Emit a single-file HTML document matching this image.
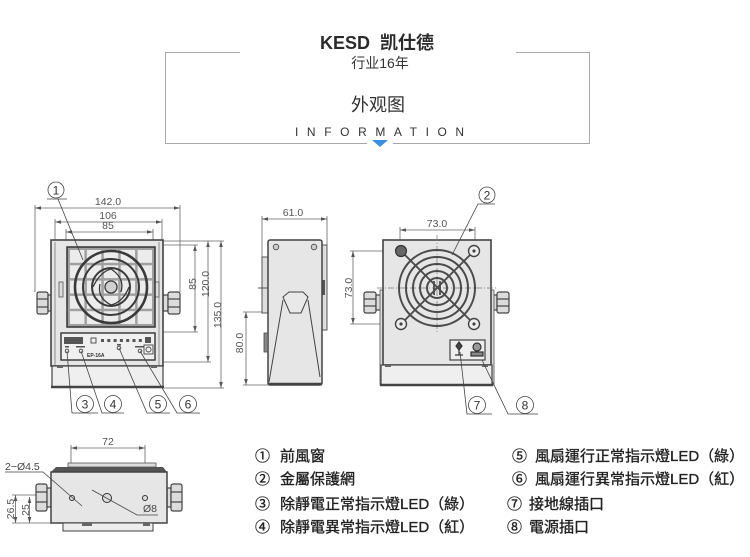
<!DOCTYPE html>
<html><head><meta charset="utf-8">
<style>
html,body{margin:0;padding:0;background:#fff;}
svg{display:block;}
.f{font-family:"Liberation Sans","Noto Sans CJK TC","Noto Sans CJK SC",sans-serif;}
.sc{font-family:"Liberation Sans","Noto Sans CJK SC",sans-serif;}
</style></head><body>
<svg width="750" height="557" viewBox="0 0 750 557" xmlns="http://www.w3.org/2000/svg" class="f">
<defs>
<marker id="a" viewBox="0 0 10 10" refX="10" refY="5" markerWidth="6" markerHeight="6" orient="auto-start-reverse" markerUnits="userSpaceOnUse"><path d="M0,2 L10,5 L0,8z" fill="#555"/></marker>
</defs>

<!-- HEADER -->
<g stroke="#a8a8a8" stroke-width="1" fill="none">
<polyline points="240,52.5 165.5,52.5 165.5,143.5 367,143.5"/>
<polyline points="516,52.5 589.5,52.5 589.5,143.5 393,143.5"/>
</g>
<polygon points="372,140 388,140 380,147" fill="#3c8ee0"/>
<g class="sc">
<text x="377" y="49" text-anchor="middle" font-size="18" font-weight="bold" fill="#2b2b2b">KESD&#160;&#160;凯仕德</text>
<text x="380" y="68" text-anchor="middle" font-size="14" fill="#333">行业16年</text>
<text x="378" y="111" text-anchor="middle" font-size="18" fill="#333">外观图</text>
</g>
<text x="295" y="136" font-size="12" letter-spacing="8.6" fill="#333">INFORMATION</text>

<!-- ================= FRONT VIEW ================= -->
<g stroke="#666" stroke-width="0.8" fill="none">
<line x1="35" y1="205" x2="35" y2="292"/>
<line x1="180" y1="205" x2="180" y2="292"/>
<line x1="55" y1="219" x2="55" y2="240"/>
<line x1="162" y1="219" x2="162" y2="240"/>
<line x1="66" y1="229" x2="66" y2="247"/>
<line x1="153" y1="229" x2="153" y2="247"/>
<line x1="35" y1="208" x2="180" y2="208" marker-start="url(#a)" marker-end="url(#a)"/>
<line x1="55" y1="222" x2="162" y2="222" marker-start="url(#a)" marker-end="url(#a)"/>
<line x1="66" y1="232" x2="153" y2="232" marker-start="url(#a)" marker-end="url(#a)"/>
<line x1="155" y1="245" x2="198" y2="245"/>
<line x1="155" y1="332" x2="198" y2="332"/>
<line x1="163" y1="241" x2="224" y2="241"/>
<line x1="163" y1="362" x2="211" y2="362"/>
<line x1="163" y1="388" x2="224" y2="388"/>
<line x1="195" y1="245" x2="195" y2="332" marker-start="url(#a)" marker-end="url(#a)"/>
<line x1="208" y1="241" x2="208" y2="362" marker-start="url(#a)" marker-end="url(#a)"/>
<line x1="221" y1="241" x2="221" y2="388" marker-start="url(#a)" marker-end="url(#a)"/>
</g>
<g font-size="10.5" fill="#555" text-anchor="middle">
<text x="108" y="205">142.0</text>
<text x="108" y="219">106</text>
<text x="108" y="229">85</text>
<text transform="translate(196,284) rotate(-90)">85</text>
<text transform="translate(209,284) rotate(-90)">120.0</text>
<text transform="translate(221,315) rotate(-90)">135.0</text>
</g>

<g stroke="#444" stroke-width="1.2" fill="#dcdcdc">
<rect x="37" y="292" width="11" height="22" rx="2"/>
<line x1="37" y1="299" x2="48" y2="299"/><line x1="37" y1="307" x2="48" y2="307"/>
<rect x="48" y="295" width="4" height="16"/>
<rect x="163" y="295" width="5" height="16"/>
<rect x="168" y="292" width="12" height="22" rx="2"/>
<line x1="168" y1="299" x2="180" y2="299"/><line x1="168" y1="307" x2="180" y2="307"/>
</g>
<rect x="51" y="240" width="112" height="126" fill="#e6e6e6" stroke="#444" stroke-width="1.6"/>
<line x1="55" y1="242" x2="55" y2="387" stroke="#777" stroke-width="0.8"/>
<line x1="159" y1="242" x2="159" y2="387" stroke="#777" stroke-width="0.8"/>
<rect x="59" y="282" width="4" height="15" fill="#ddd" stroke="#555" stroke-width="0.8"/>
<rect x="155" y="282" width="4" height="15" fill="#ddd" stroke="#555" stroke-width="0.8"/>
<rect x="67" y="247" width="88" height="80" fill="#a0a0a0" stroke="#333" stroke-width="1.5"/>
<g fill="#ececec">
<rect x="70" y="250" width="14.4" height="12.8"/><rect x="86.9" y="250" width="14.4" height="12.8"/><rect x="103.8" y="250" width="14.4" height="12.8"/><rect x="120.7" y="250" width="14.4" height="12.8"/><rect x="137.6" y="250" width="14.4" height="12.8"/>
<rect x="70" y="265.3" width="14.4" height="12.8"/><rect x="86.9" y="265.3" width="14.4" height="12.8"/><rect x="103.8" y="265.3" width="14.4" height="12.8"/><rect x="120.7" y="265.3" width="14.4" height="12.8"/><rect x="137.6" y="265.3" width="14.4" height="12.8"/>
<rect x="70" y="280.6" width="14.4" height="12.8"/><rect x="86.9" y="280.6" width="14.4" height="12.8"/><rect x="103.8" y="280.6" width="14.4" height="12.8"/><rect x="120.7" y="280.6" width="14.4" height="12.8"/><rect x="137.6" y="280.6" width="14.4" height="12.8"/>
<rect x="70" y="295.9" width="14.4" height="12.8"/><rect x="86.9" y="295.9" width="14.4" height="12.8"/><rect x="103.8" y="295.9" width="14.4" height="12.8"/><rect x="120.7" y="295.9" width="14.4" height="12.8"/><rect x="137.6" y="295.9" width="14.4" height="12.8"/>
<rect x="70" y="311.2" width="14.4" height="12.8"/><rect x="86.9" y="311.2" width="14.4" height="12.8"/><rect x="103.8" y="311.2" width="14.4" height="12.8"/><rect x="120.7" y="311.2" width="14.4" height="12.8"/><rect x="137.6" y="311.2" width="14.4" height="12.8"/>
</g>
<g fill="none" stroke="#3a3a3a">
<circle cx="111" cy="287" r="36" stroke-width="2.6"/>
<circle cx="111" cy="287" r="28" stroke-width="2"/>
<circle cx="111" cy="287" r="19" stroke-width="2"/>
<path d="M111,269 Q125,278 121,292 M93,287 Q100,272 111,269 M111,305 Q97,298 100,284 M129,287 Q123,302 111,305" stroke-width="1.3"/>
</g>
<circle cx="111" cy="287" r="6" fill="#cfcfcf" stroke="#3a3a3a" stroke-width="1.3"/>
<rect x="61" y="333" width="94" height="27" fill="#f0f0f0" stroke="#333" stroke-width="1.4"/>
<rect x="64" y="337" width="19" height="7" fill="#555"/>
<rect x="91" y="338" width="5" height="5" fill="none" stroke="#444" stroke-width="0.9"/>
<g fill="#555">
<rect x="101" y="339" width="3" height="3"/><rect x="107.3" y="339" width="3" height="3"/><rect x="113.6" y="339" width="3" height="3"/><rect x="119.9" y="339" width="3" height="3"/><rect x="126.2" y="339" width="3" height="3"/><rect x="132.5" y="339" width="3" height="3"/><rect x="138.8" y="339" width="3" height="3"/>
<rect x="145" y="337" width="6" height="6"/>
<rect x="65" y="346" width="4" height="1.5"/><rect x="76" y="346" width="9" height="1.5"/><rect x="117" y="344" width="4" height="1.5"/><rect x="135" y="346" width="9" height="1.5"/>
</g>
<g fill="none" stroke="#444" stroke-width="0.9">
<circle cx="67" cy="351" r="1.8"/><circle cx="81" cy="351" r="1.8"/><circle cx="119" cy="348" r="1.8"/><circle cx="140" cy="351" r="1.8"/>
<rect x="144" y="345" width="9" height="9"/><circle cx="148.5" cy="349.5" r="2.5"/>
</g>
<text x="87" y="357" font-size="5" font-weight="bold" fill="#333">EP-16A</text>
<rect x="52" y="366" width="111" height="21" fill="#efefef" stroke="#444" stroke-width="1.2"/>
<line x1="51" y1="387" x2="164" y2="387" stroke="#444" stroke-width="2.5"/>
<rect x="57" y="366" width="6" height="2" fill="#666"/><rect x="151" y="366" width="6" height="2" fill="#666"/>
<g stroke="#444" stroke-width="0.8" fill="none">
<circle cx="56" cy="190" r="8"/>
<polyline points="47,199 67,199"/>
<line x1="58" y1="199" x2="83" y2="260"/>
<circle cx="85" cy="404" r="8.5"/><circle cx="113" cy="404" r="8.5"/><circle cx="158" cy="404" r="8.5"/><circle cx="188" cy="404" r="8.5"/>
<polyline points="67,351 72,413 98,413"/>
<polyline points="81,351 102,413 124,413"/>
<polyline points="119,348 147,413 170,413"/>
<polyline points="140,351 177,413 200,413"/>
</g>
<g font-size="12" fill="#333" text-anchor="middle">
<text x="56" y="194.5">1</text>
<text x="85" y="408.5">3</text><text x="113" y="408.5">4</text><text x="158" y="408.5">5</text><text x="188" y="408.5">6</text>
</g>

<!-- ================= SIDE VIEW ================= -->
<g stroke="#666" stroke-width="0.8" fill="none">
<line x1="262" y1="216" x2="262" y2="257"/>
<line x1="327" y1="216" x2="327" y2="245"/>
<line x1="262" y1="219" x2="327" y2="219" marker-start="url(#a)" marker-end="url(#a)"/>
<line x1="243" y1="312" x2="290" y2="312"/>
<line x1="243" y1="385" x2="268" y2="385"/>
<line x1="246" y1="312" x2="246" y2="385" marker-start="url(#a)" marker-end="url(#a)"/>
</g>
<text x="293" y="216" font-size="10.5" fill="#555" text-anchor="middle">61.0</text>
<text transform="translate(243,343) rotate(-90)" font-size="10.5" fill="#555" text-anchor="middle">80.0</text>
<rect x="262" y="257" width="6" height="56" fill="#ddd" stroke="#555" stroke-width="1"/>
<rect x="322" y="245" width="5" height="85" fill="#ddd" stroke="#555" stroke-width="1"/>
<rect x="322" y="280" width="3" height="15" fill="#555"/>
<rect x="268" y="240" width="54" height="145" rx="2" fill="#e6e6e6" stroke="#444" stroke-width="1.5"/>
<line x1="258" y1="288" x2="268" y2="288" stroke="#444" stroke-width="0.9"/>
<path d="M264,333 L268,333 L268,352 L264,352 Z" fill="#888" stroke="#444" stroke-width="0.8"/>
<g fill="#ccc" stroke="#444" stroke-width="0.8">
<circle cx="276" cy="247" r="2.8"/><circle cx="314" cy="247" r="2.8"/>
</g>
<g stroke="#444" stroke-width="1" fill="none">
<polygon points="283,297 289,292 303,292 308,297 301,313 290,313" fill="#e9e9e9"/>
<line x1="283" y1="300" x2="269" y2="382"/>
<line x1="308" y1="300" x2="320" y2="377"/>
</g>
<line x1="268" y1="384" x2="322" y2="384" stroke="#444" stroke-width="2.5"/>

<!-- ================= BACK VIEW ================= -->
<g stroke="#666" stroke-width="0.8" fill="none">
<line x1="400" y1="227" x2="400" y2="247"/>
<line x1="475" y1="227" x2="475" y2="247"/>
<line x1="400" y1="230" x2="475" y2="230" marker-start="url(#a)" marker-end="url(#a)"/>
<line x1="350" y1="251" x2="397" y2="251"/>
<line x1="350" y1="324" x2="397" y2="324"/>
<line x1="353" y1="251" x2="353" y2="324" marker-start="url(#a)" marker-end="url(#a)"/>
</g>
<text x="437" y="227" font-size="10.5" fill="#555" text-anchor="middle">73.0</text>
<text transform="translate(352,288) rotate(-90)" font-size="10.5" fill="#555" text-anchor="middle">73.0</text>
<g stroke="#444" stroke-width="1.2" fill="#dcdcdc">
<rect x="364" y="292" width="12" height="21" rx="2"/>
<line x1="364" y1="299" x2="376" y2="299"/><line x1="364" y1="306" x2="376" y2="306"/>
<rect x="376" y="295" width="5" height="15"/>
<rect x="492" y="295" width="5" height="15"/>
<rect x="497" y="292" width="12" height="21" rx="2"/>
<line x1="497" y1="299" x2="509" y2="299"/><line x1="497" y1="306" x2="509" y2="306"/>
</g>
<rect x="380" y="290" width="4" height="95" fill="#ddd" stroke="#555" stroke-width="0.8"/>
<rect x="490" y="290" width="4" height="95" fill="#ddd" stroke="#555" stroke-width="0.8"/>
<rect x="383" y="240" width="108" height="125" fill="#e6e6e6" stroke="#444" stroke-width="1.6"/>
<rect x="381" y="365" width="111" height="20" fill="#efefef" stroke="#444" stroke-width="1.2"/>
<line x1="380" y1="385" x2="493" y2="385" stroke="#444" stroke-width="2.5"/>
<rect x="385" y="365" width="6" height="2" fill="#666"/><rect x="482" y="365" width="6" height="2" fill="#666"/>
<g stroke="#777" stroke-width="0.7" stroke-dasharray="6,2,1,2" fill="none">
<line x1="377" y1="288" x2="497" y2="288"/>
<line x1="437" y1="235" x2="437" y2="334"/>
</g>
<g fill="none" stroke="#4a4a4a" stroke-width="2">
<circle cx="437" cy="288" r="38"/>
<circle cx="437" cy="288" r="31"/>
<circle cx="437" cy="288" r="24"/>
<circle cx="437" cy="288" r="17"/>
<circle cx="437" cy="288" r="10"/>
</g>
<g stroke="#4a4a4a" stroke-width="1.8">
<line x1="401" y1="251" x2="474" y2="324"/>
<line x1="474" y1="251" x2="401" y2="324"/>
<line x1="434" y1="281" x2="434" y2="295"/><line x1="440" y1="281" x2="440" y2="295"/>
</g>
<circle cx="401" cy="251" r="5.5" fill="#666" stroke="#333" stroke-width="1.2"/>
<g fill="#eee" stroke="#444" stroke-width="1.4">
<circle cx="474" cy="251" r="5.5"/><circle cx="401" cy="324" r="5.5"/><circle cx="474" cy="324" r="5.5"/>
</g>
<g fill="#444"><circle cx="474" cy="251" r="1.6"/><circle cx="401" cy="324" r="1.6"/><circle cx="474" cy="324" r="1.6"/></g>
<rect x="450" y="340" width="35" height="20" fill="#eee" stroke="#444" stroke-width="1.2"/>
<g stroke="#333" stroke-width="1.2" fill="#444">
<polygon points="459,342 462,346 459,350 456,346"/>
<line x1="459" y1="350" x2="459" y2="355"/>
<line x1="455" y1="355" x2="463" y2="355"/>
<circle cx="477" cy="347" r="4" fill="#999"/>
<rect x="471" y="352" width="12" height="4" fill="#888"/>
</g>
<g stroke="#444" stroke-width="0.8" fill="none">
<circle cx="487" cy="195" r="8"/>
<polyline points="495,204 478,204 452,255"/>
<circle cx="477" cy="405" r="8.5"/><circle cx="525" cy="405" r="8.5"/>
<polyline points="460,352 467,414 492,414"/>
<polyline points="482,360 508,414 538,414"/>
</g>
<g font-size="12" fill="#333" text-anchor="middle">
<text x="487" y="199.5">2</text>
<text x="477" y="409.5">7</text><text x="525" y="409.5">8</text>
</g>

<!-- ================= BOTTOM VIEW ================= -->
<g stroke="#666" stroke-width="0.8" fill="none">
<line x1="71" y1="445" x2="71" y2="500"/>
<line x1="145" y1="445" x2="145" y2="500"/>
<line x1="71" y1="448" x2="145" y2="448" marker-start="url(#a)" marker-end="url(#a)"/>
<line x1="12" y1="495" x2="38" y2="495"/>
<line x1="12" y1="523" x2="51" y2="523"/>
<line x1="15.5" y1="495" x2="15.5" y2="523" marker-start="url(#a)" marker-end="url(#a)"/>
<line x1="29.5" y1="497" x2="29.5" y2="523" marker-start="url(#a)" marker-end="url(#a)"/>
</g>
<text x="108" y="445" font-size="10.5" fill="#555" text-anchor="middle">72</text>
<text transform="translate(14,509) rotate(-90)" font-size="10.5" fill="#555" text-anchor="middle">26.5</text>
<text transform="translate(29,510) rotate(-90)" font-size="10.5" fill="#555" text-anchor="middle">25</text>
<g stroke="#444" stroke-width="1.2" fill="#dcdcdc">
<rect x="36" y="484" width="11" height="27" rx="2"/>
<line x1="36" y1="492" x2="47" y2="492"/><line x1="36" y1="502" x2="47" y2="502"/>
<rect x="47" y="488" width="4" height="19"/>
<rect x="167" y="488" width="4" height="19"/>
<rect x="171" y="484" width="11" height="27" rx="2"/>
<line x1="171" y1="492" x2="182" y2="492"/><line x1="171" y1="502" x2="182" y2="502"/>
</g>
<rect x="68" y="463" width="88" height="4" fill="#ddd" stroke="#555" stroke-width="0.8"/>
<polygon points="56,467 163,467 167,472 51,472" fill="#555"/>
<rect x="51" y="472" width="116" height="51" fill="#e6e6e6" stroke="#444" stroke-width="1.5"/>
<rect x="63" y="523" width="90" height="8" fill="#eee" stroke="#444" stroke-width="1"/>
<rect x="82" y="523" width="10" height="3" fill="#666"/><rect x="143" y="523" width="7" height="3" fill="#666"/>
<g fill="#ddd" stroke="#333" stroke-width="1">
<circle cx="72" cy="498" r="2.5"/>
<circle cx="107" cy="498" r="4.5"/>
<circle cx="145" cy="498" r="2.5"/>
</g>
<g stroke="#444" stroke-width="0.8" fill="none">
<polyline points="5,472 43,472 82,506"/>
<polyline points="92,490 137,515 158,515"/>
</g>
<text x="5" y="470" font-size="10.5" fill="#444">2−Ø4.5</text>
<text x="143" y="512" font-size="10.5" fill="#444">Ø8</text>

<!-- ================= LEGEND ================= -->
<g font-size="15" fill="#222" stroke="#222" stroke-width="0.35">
<text x="255" y="461">①</text>
<text x="280" y="461">前風窗</text>
<text x="255" y="484">②</text>
<text x="280" y="484">金屬保護網</text>
<text x="255" y="509">③</text>
<text x="280" y="509">除靜電正常指示燈LED（綠）</text>
<text x="255" y="532">④</text>
<text x="280" y="532">除靜電異常指示燈LED（紅）</text>
<text x="512" y="461">⑤</text>
<text x="535" y="461">風扇運行正常指示燈LED（綠）</text>
<text x="512" y="484">⑥</text>
<text x="535" y="484">風扇運行異常指示燈LED（紅）</text>
<text x="507" y="509">⑦</text>
<text x="529" y="509">接地線插口</text>
<text x="507" y="532">⑧</text>
<text x="529" y="532">電源插口</text>
</g>
</svg>
</body></html>
